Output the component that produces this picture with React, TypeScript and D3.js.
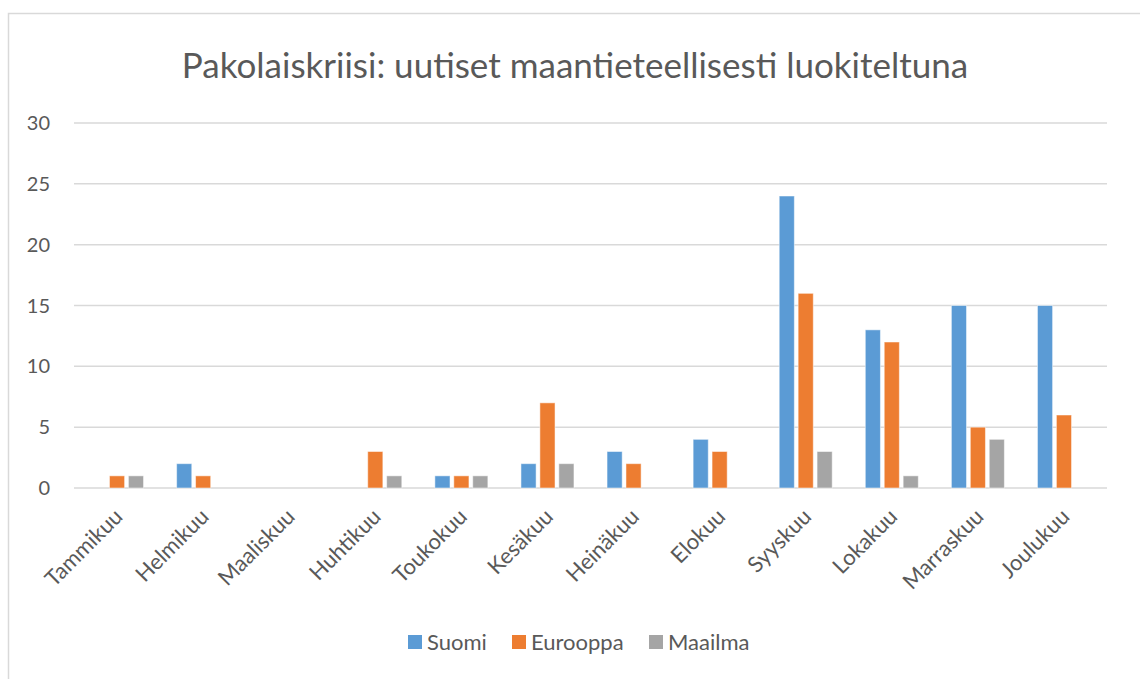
import React from 'react';
import * as d3 from 'd3';

const months = [
  'Tammikuu', 'Helmikuu', 'Maaliskuu', 'Huhtikuu', 'Toukokuu', 'Kesäkuu',
  'Heinäkuu', 'Elokuu', 'Syyskuu', 'Lokakuu', 'Marraskuu', 'Joulukuu'
];
const suomi = [0, 2, 0, 0, 1, 2, 3, 4, 24, 13, 15, 15];
const eurooppa = [1, 1, 0, 3, 1, 7, 2, 3, 16, 12, 5, 6];
const maailma = [1, 0, 0, 1, 1, 2, 0, 0, 3, 1, 4, 0];
const yTicks = [0, 5, 10, 15, 20, 25, 30];

const series = [
  { name: 'Suomi', values: suomi, color: '#5B9BD5' },
  { name: 'Eurooppa', values: eurooppa, color: '#ED7D31' },
  { name: 'Maailma', values: maailma, color: '#A5A5A5' }
];

const W = 1140;
const H = 679;
const font = 'Lato, "Open Sans", sans-serif';
const textColor = '#595959';

export default function App() {
  // plot area
  const left = 74, right = 1107, top = 123, bottom = 488;

  const x = d3.scaleBand().domain(months).range([left, right]);
  const y = d3.scaleLinear().domain([0, 30]).range([bottom, top]);
  const inner = d3.scaleBand()
    .domain(series.map(s => s.name))
    .range([-26.5, 26.5])
    .paddingInner(0.2);

  return (
    <svg width={W} height={H} style={{ position: 'absolute', left: 0, top: 0 }}>
      <rect x={0} y={0} width={W} height={H} fill="#fff" />
      {/* chart frame */}
      <rect x={8.5} y={13.5} width={W + 10} height={H + 10} fill="none" stroke="#D9D9D9" strokeWidth={1.5} />

      <text x={575} y={78} textAnchor="middle" fontFamily={font} fontSize={35} fill={textColor}>
        Pakolaiskriisi: uutiset maantieteellisesti luokiteltuna
      </text>

      {/* gridlines and y ticks */}
      {yTicks.map(t => (
        <g key={t}>
          <line x1={left} x2={right} y1={y(t)} y2={y(t)} stroke="#D9D9D9" strokeWidth={1.5} />
          <text x={50} y={y(t) + 7} textAnchor="end" fontFamily={font} fontSize={20} fill={textColor}>{t}</text>
        </g>
      ))}

      {/* bars */}
      {months.map((m, i) => (
        <g key={m} transform={`translate(${x(m)! + x.bandwidth() / 2},0)`}>
          {series.map(s => s.values[i] > 0 && (
            <rect
              key={s.name}
              x={inner(s.name)!}
              y={y(s.values[i])}
              width={inner.bandwidth()}
              height={y(0) - y(s.values[i])}
              fill={s.color}
              stroke="#fff"
              strokeOpacity={0.5}
              strokeWidth={1}
            />
          ))}
        </g>
      ))}

      {/* x labels */}
      {months.map(m => {
        const cx = x(m)! + x.bandwidth() / 2 + 7;
        const cy = 518;
        return (
          <text key={m} transform={`translate(${cx},${cy}) rotate(-45)`} textAnchor="end"
            fontFamily={font} fontSize={22} fill={textColor}>{m}</text>
        );
      })}

      {/* legend */}
      {series.map((s, i) => {
        const lx = [408, 512, 649][i];
        return (
          <g key={s.name}>
            <rect x={lx} y={635} width={14} height={14} fill={s.color} />
            <text x={lx + 19} y={650} fontFamily={font} fontSize={22} fill={textColor}>{s.name}</text>
          </g>
        );
      })}
    </svg>
  );
}
